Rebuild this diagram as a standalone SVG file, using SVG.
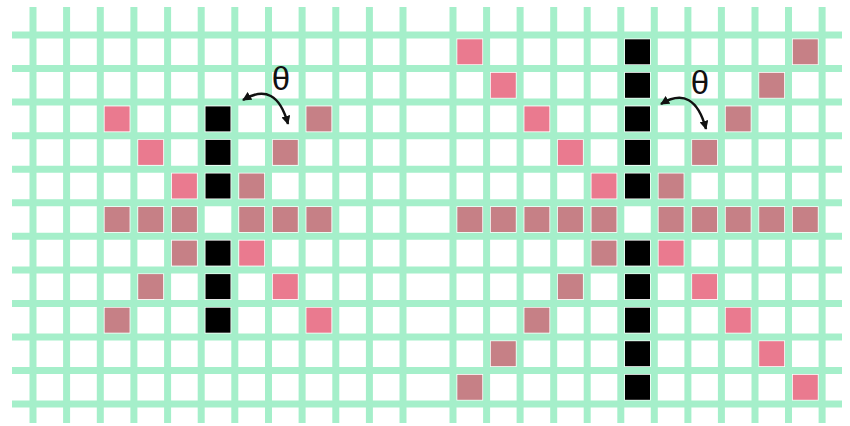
<svg xmlns="http://www.w3.org/2000/svg" width="850" height="426" viewBox="0 0 850 426">
<style>
.grid line{stroke:#a5efca;stroke-width:7}
.blk{fill:#000}
.pk{fill:#ea7a8f}
.gp{fill:#c68086}
.arc{fill:none;stroke:#111;stroke-width:2.5}
.th{font-family:"Liberation Sans",Arial,sans-serif;font-size:33px;fill:#111;text-anchor:middle}
</style>
<defs>
<marker id="ah" viewBox="0 0 10 10" refX="9" refY="5" markerWidth="9" markerHeight="9" markerUnits="userSpaceOnUse" orient="auto-start-reverse">
<path d="M0,0 L10,5 L0,10 z" fill="#111"/>
</marker>
<rect id="c" width="25" height="25"/>
</defs>
<rect width="850" height="426" fill="#fff"/>
<g id="grid" class="grid">
<line x1="12" y1="35" x2="842" y2="35"/>
<line x1="12" y1="68.6" x2="842" y2="68.6"/>
<line x1="12" y1="102.1" x2="842" y2="102.1"/>
<line x1="12" y1="135.7" x2="842" y2="135.7"/>
<line x1="12" y1="169.2" x2="842" y2="169.2"/>
<line x1="12" y1="202.8" x2="842" y2="202.8"/>
<line x1="12" y1="236.3" x2="842" y2="236.3"/>
<line x1="12" y1="269.9" x2="842" y2="269.9"/>
<line x1="12" y1="303.4" x2="842" y2="303.4"/>
<line x1="12" y1="337" x2="842" y2="337"/>
<line x1="12" y1="370.5" x2="842" y2="370.5"/>
<line x1="12" y1="404.1" x2="842" y2="404.1"/>
<line x1="33" y1="7" x2="33" y2="423"/>
<line x1="66.6" y1="7" x2="66.6" y2="423"/>
<line x1="100.3" y1="7" x2="100.3" y2="423"/>
<line x1="133.9" y1="7" x2="133.9" y2="423"/>
<line x1="167.6" y1="7" x2="167.6" y2="423"/>
<line x1="201.2" y1="7" x2="201.2" y2="423"/>
<line x1="234.8" y1="7" x2="234.8" y2="423"/>
<line x1="268.5" y1="7" x2="268.5" y2="423"/>
<line x1="302.1" y1="7" x2="302.1" y2="423"/>
<line x1="335.8" y1="7" x2="335.8" y2="423"/>
<line x1="369.4" y1="7" x2="369.4" y2="423"/>
<line x1="403" y1="7" x2="403" y2="423"/>
<line x1="453" y1="7" x2="453" y2="423"/>
<line x1="486.6" y1="7" x2="486.6" y2="423"/>
<line x1="520.1" y1="7" x2="520.1" y2="423"/>
<line x1="553.7" y1="7" x2="553.7" y2="423"/>
<line x1="587.2" y1="7" x2="587.2" y2="423"/>
<line x1="620.8" y1="7" x2="620.8" y2="423"/>
<line x1="654.3" y1="7" x2="654.3" y2="423"/>
<line x1="687.9" y1="7" x2="687.9" y2="423"/>
<line x1="721.4" y1="7" x2="721.4" y2="423"/>
<line x1="755" y1="7" x2="755" y2="423"/>
<line x1="788.5" y1="7" x2="788.5" y2="423"/>
<line x1="822.1" y1="7" x2="822.1" y2="423"/>
</g>
<g id="left-pattern">
<use href="#c" class="blk" x="205.5" y="106.4"/>
<use href="#c" class="blk" x="205.5" y="139.9"/>
<use href="#c" class="blk" x="205.5" y="173.5"/>
<use href="#c" class="blk" x="205.5" y="240.6"/>
<use href="#c" class="blk" x="205.5" y="274.1"/>
<use href="#c" class="blk" x="205.5" y="307.7"/>
<use href="#c" class="gp" x="104.6" y="207"/>
<use href="#c" class="gp" x="138.2" y="207"/>
<use href="#c" class="gp" x="171.9" y="207"/>
<use href="#c" class="gp" x="239.2" y="207"/>
<use href="#c" class="gp" x="272.8" y="207"/>
<use href="#c" class="gp" x="306.4" y="207"/>
<use href="#c" class="pk" x="104.6" y="106.4"/>
<use href="#c" class="pk" x="138.2" y="139.9"/>
<use href="#c" class="pk" x="171.9" y="173.5"/>
<use href="#c" class="pk" x="239.2" y="240.6"/>
<use href="#c" class="pk" x="272.8" y="274.1"/>
<use href="#c" class="pk" x="306.4" y="307.7"/>
<use href="#c" class="gp" x="306.4" y="106.4"/>
<use href="#c" class="gp" x="272.8" y="139.9"/>
<use href="#c" class="gp" x="239.2" y="173.5"/>
<use href="#c" class="gp" x="171.9" y="240.6"/>
<use href="#c" class="gp" x="138.2" y="274.1"/>
<use href="#c" class="gp" x="104.6" y="307.7"/>
</g>
<g id="right-pattern">
<use href="#c" class="blk" x="625" y="39.3"/>
<use href="#c" class="blk" x="625" y="72.8"/>
<use href="#c" class="blk" x="625" y="106.4"/>
<use href="#c" class="blk" x="625" y="139.9"/>
<use href="#c" class="blk" x="625" y="173.5"/>
<use href="#c" class="blk" x="625" y="240.6"/>
<use href="#c" class="blk" x="625" y="274.1"/>
<use href="#c" class="blk" x="625" y="307.7"/>
<use href="#c" class="blk" x="625" y="341.2"/>
<use href="#c" class="blk" x="625" y="374.8"/>
<use href="#c" class="gp" x="457.3" y="207"/>
<use href="#c" class="gp" x="490.8" y="207"/>
<use href="#c" class="gp" x="524.4" y="207"/>
<use href="#c" class="gp" x="557.9" y="207"/>
<use href="#c" class="gp" x="591.5" y="207"/>
<use href="#c" class="gp" x="658.6" y="207"/>
<use href="#c" class="gp" x="692.1" y="207"/>
<use href="#c" class="gp" x="725.7" y="207"/>
<use href="#c" class="gp" x="759.2" y="207"/>
<use href="#c" class="gp" x="792.8" y="207"/>
<use href="#c" class="pk" x="457.3" y="39.3"/>
<use href="#c" class="pk" x="490.8" y="72.8"/>
<use href="#c" class="pk" x="524.4" y="106.4"/>
<use href="#c" class="pk" x="557.9" y="139.9"/>
<use href="#c" class="pk" x="591.5" y="173.5"/>
<use href="#c" class="pk" x="658.6" y="240.6"/>
<use href="#c" class="pk" x="692.1" y="274.1"/>
<use href="#c" class="pk" x="725.7" y="307.7"/>
<use href="#c" class="pk" x="759.2" y="341.2"/>
<use href="#c" class="pk" x="792.8" y="374.8"/>
<use href="#c" class="gp" x="792.8" y="39.3"/>
<use href="#c" class="gp" x="759.2" y="72.8"/>
<use href="#c" class="gp" x="725.7" y="106.4"/>
<use href="#c" class="gp" x="692.1" y="139.9"/>
<use href="#c" class="gp" x="658.6" y="173.5"/>
<use href="#c" class="gp" x="591.5" y="240.6"/>
<use href="#c" class="gp" x="557.9" y="274.1"/>
<use href="#c" class="gp" x="524.4" y="307.7"/>
<use href="#c" class="gp" x="490.8" y="341.2"/>
<use href="#c" class="gp" x="457.3" y="374.8"/>
</g>
<g id="connectors">
<path class="arc" d="M243,100 Q276,80 288,124" marker-start="url(#ah)" marker-end="url(#ah)"/>
<path class="arc" d="M661,104 Q694,84 706,129" marker-start="url(#ah)" marker-end="url(#ah)"/>
</g>
<g id="labels">
<text class="th" x="281" y="90">θ</text>
<text class="th" x="700" y="94">θ</text>
</g>
</svg>
